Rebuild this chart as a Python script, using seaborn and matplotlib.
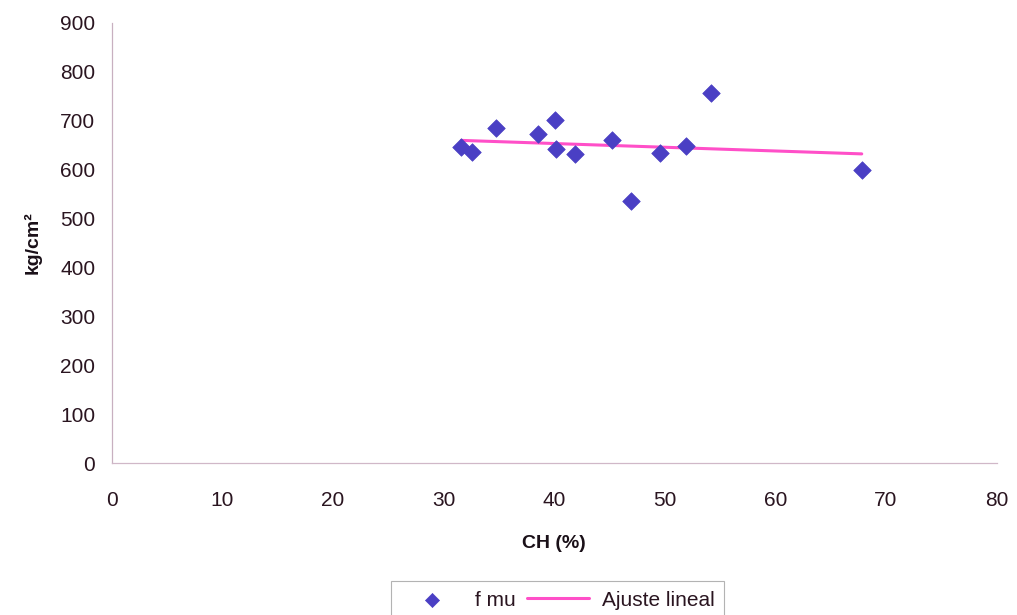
import numpy as np
import pandas as pd
import matplotlib
matplotlib.use('Agg')
import matplotlib.pyplot as plt
import seaborn as sns

# Data (CH %, f mu in kg/cm2)
ch = [31.6, 32.6, 34.7, 38.5, 40.1, 40.2, 41.9, 45.2, 46.9, 49.6, 51.9, 54.2, 67.8]
fmu = [646, 636, 685, 673, 701, 642, 632, 660, 536, 634, 648, 757, 599]
x_ticks = [0, 10, 20, 30, 40, 50, 60, 70, 80]
y_ticks = [0, 100, 200, 300, 400, 500, 600, 700, 800, 900]

df = pd.DataFrame({'CH': ch, 'fmu': fmu})

# Linear fit over the data range
slope, intercept = np.polyfit(df['CH'], df['fmu'], 1)
fit = pd.DataFrame({'CH': [min(ch), max(ch)]})
fit['fmu'] = intercept + slope * fit['CH']

sns.set_style('white')
plt.rcParams['font.family'] = ['Liberation Sans', 'DejaVu Sans']

fig = plt.figure(figsize=(10.17, 6.15), dpi=100)
ax = fig.add_axes([0.110, 0.247, 0.870, 0.716])

sns.lineplot(data=fit, x='CH', y='fmu', ax=ax, color='#ff4fc8', linewidth=2.2,
             label='Ajuste lineal', zorder=2)
sns.scatterplot(data=df, x='CH', y='fmu', ax=ax, marker='D', s=80, color='#4a3fc4',
                edgecolor='#4a3fc4', linewidth=0.5, label='f mu', zorder=3)

ax.set_xlim(0, 80)
ax.set_ylim(0, 900)
ax.set_xticks(x_ticks)
ax.set_yticks(y_ticks)
ax.tick_params(axis='both', labelsize=15, colors='#2a1520', length=4, width=0.8)
ax.tick_params(axis='x', length=0, pad=20)
ax.tick_params(axis='y', direction='inout', length=6, color='#c0a8b8', pad=9)

for side in ['top', 'right']:
    ax.spines[side].set_visible(False)
ax.spines['left'].set_color('#c8b0c0')
ax.spines['bottom'].set_color('#d0b8c8')
ax.spines['left'].set_linewidth(0.9)
ax.spines['bottom'].set_linewidth(0.9)

ax.set_xlabel('CH (%)', fontsize=14, fontweight='bold', color='#1a1018', labelpad=18)
ax.set_ylabel('kg/cm²', fontsize=14, fontweight='bold', color='#1a1018', labelpad=13)

# legend at the bottom, scatter first
ax.get_legend().remove()
handles, labels = ax.get_legend_handles_labels()
order = [labels.index('f mu'), labels.index('Ajuste lineal')]
leg = fig.legend([handles[i] for i in order], [labels[i] for i in order],
                 loc='upper center', bbox_to_anchor=(0.548, 0.055), ncol=2,
                 fontsize=15, frameon=True, fancybox=False, edgecolor='#a0a0a0',
                 handlelength=3.0, columnspacing=0.5, handletextpad=0.6,
                 borderpad=0.45, borderaxespad=0, labelcolor='#2a1520', markerscale=0.8)
leg.get_frame().set_linewidth(0.8)

fig.savefig('out.png', dpi=100)
